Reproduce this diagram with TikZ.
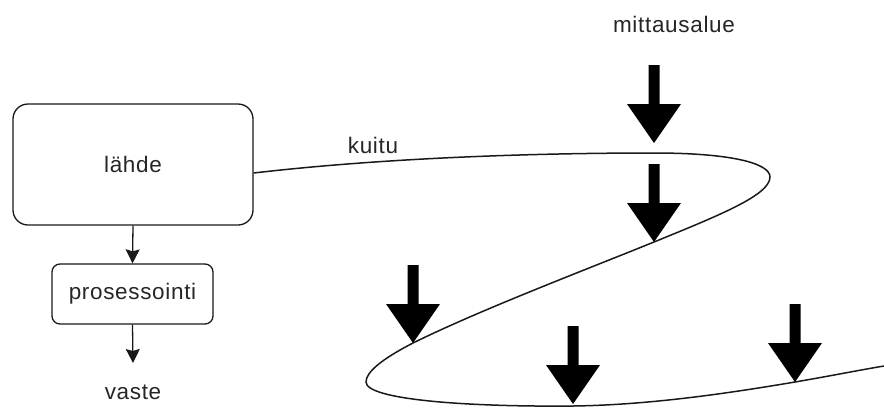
\documentclass[tikz,border=0pt]{standalone}
\usepackage{fontspec}
\setmainfont{Liberation Sans}[LetterSpace=3]
\usetikzlibrary{arrows.meta}
\tikzset{
  lbl/.style={font=\fontsize{22.5}{26}\selectfont, text=black!85, inner sep=0pt},
  boxa/.style={draw=black!90, line width=1.3pt, rounded corners=15pt, minimum width=240pt, minimum height=121pt, inner sep=0pt},
  boxb/.style={draw=black!90, line width=1.3pt, rounded corners=8pt, minimum width=161pt, minimum height=60pt, inner sep=0pt},
  flow/.style={line width=1.3pt, draw=black!90, -{Stealth[length=14pt,width=14pt,inset=2pt]}},
  fibre/.style={line width=1.5pt, draw=black!90},
  bigarrow/.pic={\fill[black] (-5.5,-78) -- (5.5,-78) -- (5.5,-39) -- (27,-39) -- (0,0) -- (-27,-39) -- (-5.5,-39) -- cycle;}
}
\begin{document}
\begin{tikzpicture}[x=1pt,y=-1pt]
\useasboundingbox (0,0) rectangle (884,410);
\node[boxa, lbl] (lahde) at (133,164.5) {lähde};
\node[boxb, lbl] (proc) at (132.5,294) {prosessointi};
\node[lbl] (vaste) at (133,392) {vaste};
\node[lbl] (mitta) at (674,24) {mittausalue};
\node[lbl] (kuitu) at (373,145) {kuitu};
\coordinate (vend) at (133,363);
\draw[flow] (lahde.south) -- (proc.north);
\draw[flow] (proc.south) -- (vend);
\coordinate (fend) at (884,366);
\draw[fibre] ([yshift=-8.5pt]lahde.east) .. controls (400,156) and (560,153) .. (654,153)
  .. controls (730,153) and (770,163) .. (770,177)
  .. controls (770,195) and (720,215) .. (654,242)
  .. controls (580,272) and (480,310) .. (413,343)
  .. controls (382,359) and (366,372) .. (366,382)
  .. controls (366,400) and (470,407) .. (573,406)
  .. controls (650,405) and (730,393) .. (795,382)
  .. controls (830,376) and (860,370) .. (fend);
\pic at (654,143) {bigarrow};
\pic at (654,242) {bigarrow};
\pic at (413,343) {bigarrow};
\pic at (573,404) {bigarrow};
\pic at (795,382) {bigarrow};
\end{tikzpicture}
\end{document}
